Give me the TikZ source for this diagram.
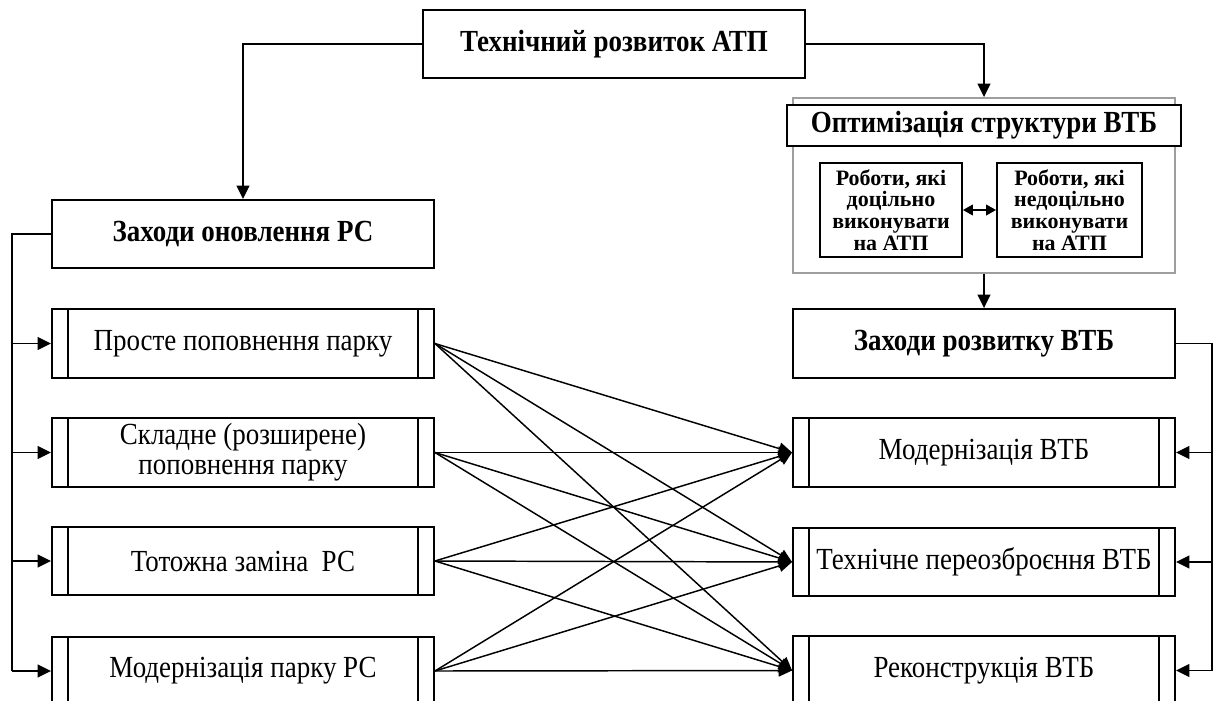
\documentclass[tikz,border=0pt]{standalone}
\usepackage{fontspec}
\setmainfont{Liberation Serif}[FakeStretch=0.88]
\newfontfamily\plainserif{Liberation Serif}
\usetikzlibrary{arrows.meta}
\begin{document}
\def\u{0.75pt}
\begin{tikzpicture}[x=0.75pt,y=-0.75pt,
  pbox/.style={draw, line width=1.4pt, inner sep=0pt, align=center, fill=white,
    font=\fontsize{23}{22.5}\selectfont},
  sbox/.style={draw, line width=1.4pt, inner sep=0pt, align=center, fill=white,
    font=\plainserif\bfseries\fontsize{16.5}{16.2}\selectfont},
  grpbox/.style={draw=black!38, line width=1.4pt, inner sep=0pt},
  line/.style={line width=1.4pt},
  conn/.style={line width=1.4pt, -{Triangle[length=10pt,width=9.5pt]}},
  xconn/.style={line width=1.1pt, -{Triangle[length=10pt,width=9pt]}},
  dconn/.style={line width=1.4pt, {Triangle[length=7.5pt,width=8pt]}-{Triangle[length=7.5pt,width=8pt]}}
]
\path[use as bounding box] (0,0) rectangle (1214,700);
\clip (0,0) rectangle (1214,700);

% top
\node[pbox, minimum width=382*\u, minimum height=68*\u] (top) at (614,44) {\bfseries Технічний розвиток АТП};

% left column
\node[pbox, minimum width=382*\u, minimum height=68*\u] (zo) at (243,234) {\bfseries Заходи оновлення РС};
\node[pbox, minimum width=382*\u, minimum height=69*\u] (l1) at (243,343.5) {Просте поповнення парку};
\node[pbox, minimum width=382*\u, minimum height=69*\u] (l2) at (243,452.5) {Складне (розширене)\\поповнення парку};
\node[pbox, minimum width=382*\u, minimum height=68*\u] (l3) at (243,561) {Тотожна заміна\ \ РС};
\node[pbox, minimum width=382*\u, minimum height=68*\u] (l4) at (243,671) {Модернізація парку РС};

% right column
\node[grpbox, minimum width=382*\u, minimum height=175*\u] (grp) at (984,185.5) {};
\node[pbox, minimum width=394*\u, minimum height=41*\u] (opt) at (984,125.5) {\bfseries Оптимізація структури ВТБ};
\node[sbox, minimum width=142*\u, minimum height=94*\u] (ia) at (891,210) {Роботи, які\\доцільно\\виконувати\\на АТП};
\node[sbox, minimum width=145*\u, minimum height=94*\u] (ib) at (1069.5,210) {Роботи, які\\недоцільно\\виконувати\\на АТП};
\node[pbox, minimum width=382*\u, minimum height=69*\u] (zr) at (984,343.5) {\bfseries Заходи розвитку ВТБ};
\node[pbox, minimum width=382*\u, minimum height=69*\u] (r1) at (984,452.5) {Модернізація ВТБ};
\node[pbox, minimum width=382*\u, minimum height=68*\u] (r2) at (984,562) {Технічне переозброєння ВТБ};
\node[pbox, minimum width=382*\u, minimum height=69*\u] (r3) at (984,670.5) {Реконструкція ВТБ};

% inner lines of process boxes
\foreach \n in {l1,l2,l3,l4,r1,r2,r3}{
  \draw[line] ([xshift=17*\u]\n.north west) -- ([xshift=17*\u]\n.south west)
              ([xshift=-17*\u]\n.north east) -- ([xshift=-17*\u]\n.south east);
}

% connectors from top
\draw[conn] (top.west) -| (zo.north);
\draw[conn] (top.east) -| (grp.north);
\draw[conn] (grp.south) -- (zr.north);
\draw[dconn] (ia.east) -- (ib.west);

% left bus
\coordinate (lbus) at (12,671);
\draw[line] (zo.west) -| (lbus);
\foreach \n in {l1,l2,l3,l4}{
  \draw[conn] (lbus |- \n.west) -- (\n.west);
}

% right bus
\coordinate (rbus) at (1212,671);
\draw[line] (zr.east) -| (rbus);
\foreach \n in {r1,r2,r3}{
  \draw[conn] (rbus |- \n.east) -- (\n.east);
}

% cross connections
\foreach \a in {l1,l2,l3,l4}{
  \foreach \b in {r1,r2,r3}{
    \draw[xconn] (\a.east) -- (\b.west);
  }
}
\end{tikzpicture}
\end{document}
